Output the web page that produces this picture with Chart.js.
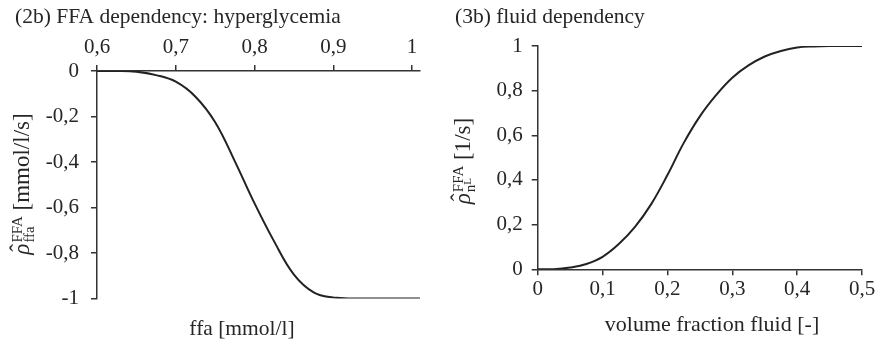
<!DOCTYPE html>
<html>
<head>
<meta charset="utf-8">
<script src="https://cdn.jsdelivr.net/npm/chart.js@4.4.0/dist/chart.umd.min.js"></script>
<style>
    body { margin: 0; background: #fff; }
    .panel { position: absolute; top: 0; height: 344px; }
    #left { left: 0; width: 440px; }
    #right { left: 440px; width: 438px; }
</style>
</head>
<body>
<div class="panel" id="left"><canvas id="ffaChart"></canvas></div>
<div class="panel" id="right"><canvas id="fluidChart"></canvas></div>
<script>
// (2b) FFA dependency: hyperglycemia
const ffaX = [0.6, 0.625, 0.65, 0.675, 0.7, 0.725, 0.75, 0.775, 0.8, 0.825, 0.85, 0.875, 0.9, 0.925, 0.95, 0.975, 1.0, 1.01];
const ffaY = [0, 0, -0.003, -0.018, -0.047, -0.113, -0.225, -0.397, -0.582, -0.75, -0.895, -0.973, -0.996, -1, -1, -1, -1, -1];
const ffaXTicks = [0.6, 0.7, 0.8, 0.9, 1];
const ffaYTicks = [0, -0.2, -0.4, -0.6, -0.8, -1];

// (3b) fluid dependency
const fluidX = [0, 0.025, 0.05, 0.075, 0.1, 0.125, 0.15, 0.175, 0.2, 0.225, 0.25, 0.275, 0.3, 0.325, 0.35, 0.375, 0.4, 0.425, 0.45, 0.475, 0.5];
const fluidY = [0, 0, 0.008, 0.024, 0.056, 0.113, 0.19, 0.292, 0.422, 0.565, 0.685, 0.78, 0.858, 0.913, 0.953, 0.978, 0.993, 0.998, 1, 1, 1];
const fluidXTicks = [0, 0.1, 0.2, 0.3, 0.4, 0.5];
const fluidYTicks = [0, 0.2, 0.4, 0.6, 0.8, 1];

const serif = "'Liberation Serif', 'Times New Roman', serif";
const ink = '#262626';
const axisColor = '#333333';
const tickFont = { family: serif, size: 21 };

// comma as decimal separator
function fmt(v) {
    return String(Math.round(v * 10) / 10).replace('.', ',');
}

function toPoints(xs, ys) {
    return xs.map((x, i) => ({ x: x, y: ys[i] }));
}

// rotated axis title: rho-hat with sub/superscript and a unit
function drawRhoTitle(ctx, x, cy, subParts, sup, unit) {
    const big = 23, small = 15;
    ctx.save();
    ctx.translate(x, cy);
    ctx.rotate(-Math.PI / 2);
    ctx.fillStyle = ink;
    ctx.textAlign = 'left';
    ctx.textBaseline = 'alphabetic';

    ctx.font = `italic ${big}px ${serif}`;
    const wRho = ctx.measureText('ρ').width;
    let wSub = 0;
    subParts.forEach(p => {
        ctx.font = `${p.size}px ${serif}`;
        wSub += ctx.measureText(p.text).width;
    });
    ctx.font = `${small}px ${serif}`;
    const wSup = ctx.measureText(sup).width;
    ctx.font = `${big}px ${serif}`;
    const wUnit = ctx.measureText(unit).width;
    const total = wRho + 1 + Math.max(wSub, wSup) + wUnit;

    let pen = -total / 2;
    ctx.font = `italic ${big}px ${serif}`;
    ctx.fillText('ρ', pen, 0);
    ctx.font = `${big}px ${serif}`;
    ctx.textAlign = 'center';
    ctx.fillText('ˆ', pen + wRho * 0.62, -3);
    ctx.textAlign = 'left';
    pen += wRho + 1;

    let p2 = pen;
    subParts.forEach(p => {
        ctx.font = `${p.size}px ${serif}`;
        ctx.fillText(p.text, p2, p.dy);
        p2 += ctx.measureText(p.text).width;
    });
    ctx.font = `${small}px ${serif}`;
    ctx.fillText(sup, pen, -7);
    pen += Math.max(wSub, wSup);

    ctx.font = `${big}px ${serif}`;
    ctx.fillText(unit, pen, 0);
    ctx.restore();
}

function drawText(ctx, text, x, y, size, align) {
    ctx.save();
    ctx.font = `${size}px ${serif}`;
    ctx.fillStyle = ink;
    ctx.textAlign = align;
    ctx.textBaseline = 'alphabetic';
    ctx.fillText(text, x, y);
    ctx.restore();
}

function axisOptions(opts) {
    return Object.assign({
        type: 'linear',
        grid: { drawOnChartArea: false, tickLength: 6, color: axisColor, lineWidth: 1.5 },
        border: { color: axisColor, width: 1.5 }
    }, opts);
}

const lineStyle = {
    showLine: true,
    borderColor: '#222222',
    borderWidth: 2,
    pointRadius: 0,
    fill: false,
    tension: 0.4
};

new Chart(document.getElementById('ffaChart'), {
    type: 'scatter',
    data: {
        datasets: [Object.assign({ data: toPoints(ffaX, ffaY) }, lineStyle)]
    },
    options: {
        responsive: true,
        maintainAspectRatio: false,
        animation: false,
        layout: { padding: { left: 0, right: 20, top: 0, bottom: 45.5 } },
        plugins: { legend: { display: false }, tooltip: { enabled: false } },
        scales: {
            x: axisOptions({
                position: 'top',
                min: 0.6,
                max: 1.01,
                afterBuildTicks: s => { s.ticks = ffaXTicks.map(v => ({ value: v })); },
                afterFit: s => { s.height = 71; },
                ticks: { font: tickFont, color: ink, padding: 5, maxRotation: 0, autoSkip: false, callback: v => fmt(v) }
            }),
            y: axisOptions({
                min: -1,
                max: 0,
                afterBuildTicks: s => { s.ticks = ffaYTicks.map(v => ({ value: v })); },
                afterFit: s => { s.width = 97; },
                ticks: { font: tickFont, color: ink, padding: 12, autoSkip: false, callback: v => fmt(v) }
            })
        }
    },
    plugins: [{
        id: 'ffaText',
        afterDraw(chart) {
            const ctx = chart.ctx;
            drawText(ctx, '(2b) FFA dependency: hyperglycemia', 15, 23, 21.5, 'left');
            drawText(ctx, 'ffa [mmol/l]', 242, 335, 21.5, 'center');
            drawRhoTitle(ctx, 28.5, 184, [{ text: 'ffa', size: 15, dy: 5 }], 'FFA', ' [mmol/l/s]');
        }
    }]
});

new Chart(document.getElementById('fluidChart'), {
    type: 'scatter',
    data: {
        datasets: [Object.assign({ data: toPoints(fluidX, fluidY) }, lineStyle)]
    },
    options: {
        responsive: true,
        maintainAspectRatio: false,
        animation: false,
        layout: { padding: { left: 0, right: 16, top: 46, bottom: 0 } },
        plugins: { legend: { display: false }, tooltip: { enabled: false } },
        scales: {
            x: axisOptions({
                min: 0,
                max: 0.5,
                afterBuildTicks: s => { s.ticks = fluidXTicks.map(v => ({ value: v })); },
                afterFit: s => { s.height = 74.7; },
                ticks: { font: tickFont, color: ink, padding: 2, maxRotation: 0, autoSkip: false, callback: v => fmt(v) }
            }),
            y: axisOptions({
                min: 0,
                max: 1,
                afterBuildTicks: s => { s.ticks = fluidYTicks.map(v => ({ value: v })); },
                afterFit: s => { s.width = 97.7; },
                ticks: { font: tickFont, color: ink, padding: 9, autoSkip: false, callback: v => fmt(v) }
            })
        }
    },
    plugins: [{
        id: 'fluidText',
        afterDraw(chart) {
            const ctx = chart.ctx;
            drawText(ctx, '(3b) fluid dependency', 15, 23, 21.5, 'left');
            drawText(ctx, 'volume fraction fluid [-]', 272, 331, 22, 'center');
            drawRhoTitle(ctx, 30, 161, [{ text: 'n', size: 15, dy: 5 }, { text: 'L', size: 11, dy: 1 }], 'FFA', ' [1/s]');
        }
    }]
});
</script>
</body>
</html>
